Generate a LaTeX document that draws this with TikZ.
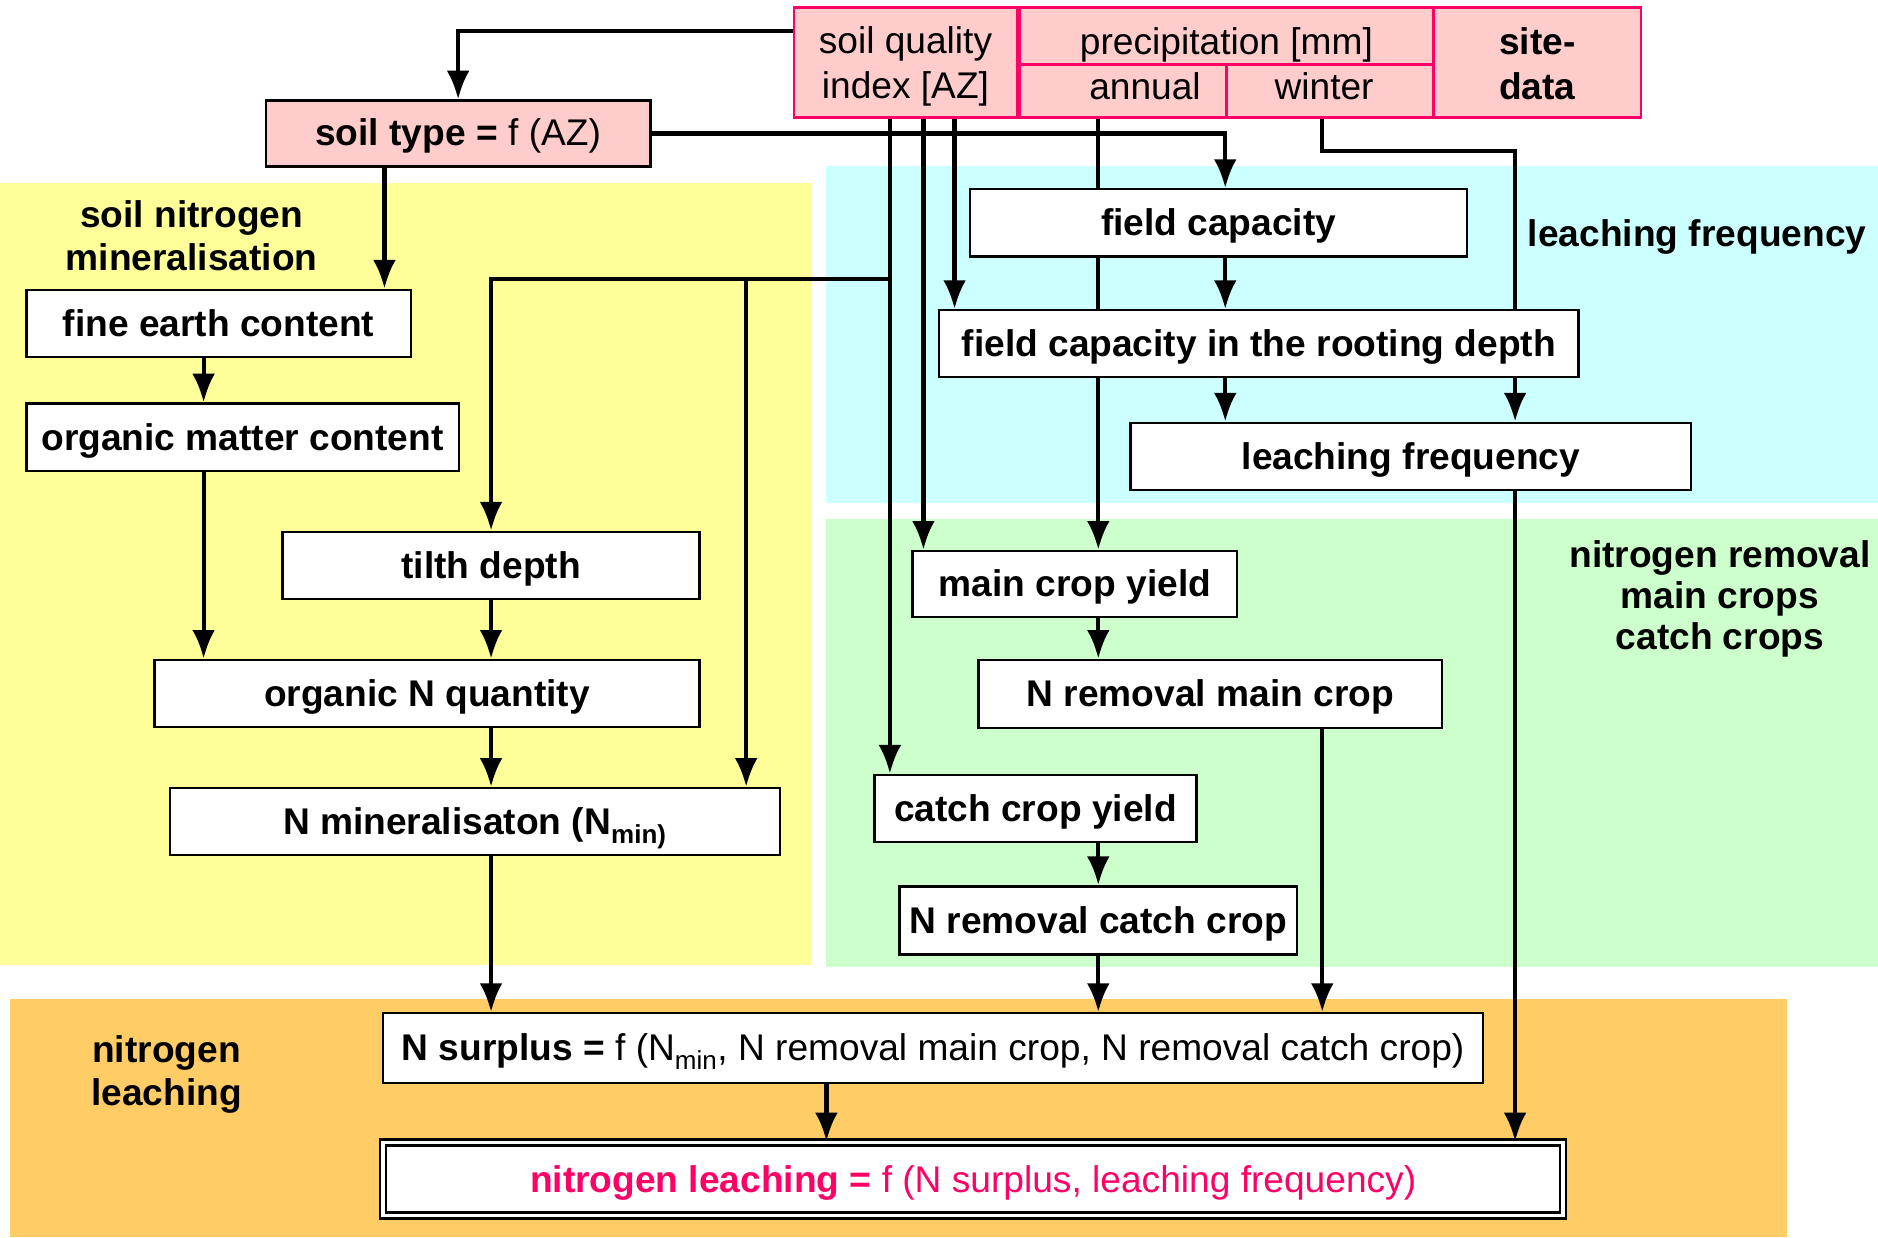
\documentclass[tikz,border=0pt]{standalone}
\usepackage{fontspec}
\setmainfont{Liberation Sans}
\usetikzlibrary{arrows.meta}
\pgfdeclarelayer{regions}
\pgfdeclarelayer{wires}
\pgfsetlayers{regions,wires,main}
\definecolor{cyel}{HTML}{FFFF99}
\definecolor{ccyan}{HTML}{CCFFFF}
\definecolor{cgreen}{HTML}{CCFFCC}
\definecolor{corange}{HTML}{FFCC66}
\definecolor{cpink}{HTML}{FFCCCC}
\definecolor{cmag}{HTML}{FF0066}
\begin{document}
\begin{tikzpicture}[x=1pt,y=-1pt,
  txt/.style={font=\fontsize{31}{38}\selectfont, align=center, inner sep=0pt},
  box/.style={txt, draw=black, line width=2pt, fill=white, font=\fontsize{31}{38}\selectfont\bfseries, text height=21.5pt, text depth=0pt},
  pinkcell/.style={txt, draw=cmag, line width=2.2pt, fill=cpink},
  onecell/.style={pinkcell, text height=20.5pt, text depth=0pt},
  lab/.style={txt, font=\fontsize{31}{36}\selectfont\bfseries},
  arr/.style={line width=3.5pt, -{Latex[length=24pt,width=19pt]}}]
\useasboundingbox (0,0) rectangle (1568,1033);

% regions
\begin{pgfonlayer}{regions}
\fill[cyel] (0,153) rectangle (677,806);
\fill[ccyan] (690,139) rectangle (1568,420);
\fill[cgreen] (690,433) rectangle (1568,807);
\fill[corange] (8,834) rectangle (1492,1033);
\end{pgfonlayer}

% region labels
\node[lab] (lsoil) at (160,197) {soil nitrogen\\mineralisation};
\node[lab] (lleach) at (1417,198) {leaching frequency};
\node[lab, font=\fontsize{31}{34}\selectfont\bfseries] (lrem) at (1436,500) {nitrogen removal\\main crops\\catch crops};
\node[lab] (lnl) at (139,897) {nitrogen\\leaching};

% top site data cells
\node[pinkcell, minimum width=186pt, minimum height=92pt] (sqi) at (756,52) {\rule{0pt}{29pt}soil quality\\index [AZ]};
\node[onecell, minimum width=346pt, minimum height=48pt] (prec) at (1024,30) {\raisebox{-5.5pt}{precipitation [mm]}};
\node[onecell, minimum width=173pt, minimum height=44pt] (annual) at (937.5,76) {\hspace*{37pt}\raisebox{3.5pt}{annual}};
\node[onecell, minimum width=173pt, minimum height=44pt] (winter) at (1110.5,76) {\hspace*{-10pt}\raisebox{3.5pt}{winter}};
\node[pinkcell, minimum width=173pt, minimum height=92pt, font=\fontsize{31}{38}\selectfont\bfseries] (site) at (1283.5,52) {\rule{0pt}{25pt}site-\\data};

\node[onecell, draw=black, line width=2pt, minimum width=321pt, minimum height=55pt] (soiltype) at (382.5,111.5) {\textbf{soil type =} f (AZ)};

% left column
\node[box, minimum width=321pt, minimum height=56pt] (fec) at (182.5,270) {fine earth content};
\node[box, minimum width=361pt, minimum height=56pt] (omc) at (202.5,365) {organic matter content};
\node[box, minimum width=348pt, minimum height=56pt] (tilth) at (410,472) {tilth depth};
\node[box, minimum width=455pt, minimum height=56pt] (orgN) at (356.5,579) {organic N quantity};
\node[box, minimum width=509pt, minimum height=56pt] (nmin) at (396.5,686) {N mineralisaton (N\textsubscript{min)}};

% right column
\node[box, minimum width=415pt, minimum height=56pt] (fc) at (1017.5,186) {field capacity};
\node[box, minimum width=534pt, minimum height=56pt] (fcr) at (1051,287) {field capacity in the rooting depth};
\node[box, minimum width=468pt, minimum height=56pt] (lf) at (1178,381) {leaching frequency};
\node[box, minimum width=271pt, minimum height=55pt] (mcy) at (897.5,487.5) {main crop yield};
\node[box, minimum width=387pt, minimum height=57pt] (nrm) at (1010.5,579.5) {N removal main crop};
\node[box, minimum width=269pt, minimum height=56pt] (ccy) at (864.5,675) {catch crop yield};
\node[box, minimum width=332pt, minimum height=57pt] (nrc) at (917,768.5) {N removal catch crop};

% bottom
\node[box, font=\fontsize{31}{38}\selectfont, minimum width=918pt, minimum height=58pt] (nsur) at (779,875)
  {\textbf{N surplus =} f (N\textsubscript{min}, N removal main crop, N removal catch crop)};
\node[box, font=\fontsize{31}{38}\selectfont, text=cmag, double=white, double distance=3pt, minimum width=985pt, minimum height=61pt] (nleach) at (812.5,984.5)
  {\textbf{nitrogen leaching =} f (N surplus, leaching frequency)};

\coordinate (j1) at (743,233);
\coordinate (j2) at (623,233);
\coordinate (w1) at (1265,126);

% connectors
\begin{pgfonlayer}{wires}
\draw[arr] ([yshift=26pt]sqi.west) -| (soiltype.north);
\draw[arr] (soiltype.east) -| (1023,0 |- fc.north);
\draw[arr] (321,0 |- soiltype.south) -- (321,0 |- fec.north);
\draw[arr] (743,0 |- sqi.south) -- (743,0 |- ccy.north);
\draw[arr] (j1) -| (tilth.north);
\draw[arr] (j2) -- (j2 |- nmin.north);
\draw[arr] (771,0 |- sqi.south) -- (771,0 |- mcy.north);
\draw[arr] (797,0 |- sqi.south) -- (797,0 |- fcr.north);
\draw[arr] (917,0 |- annual.south) -- (917,0 |- mcy.north);
\draw[arr] (1104,0 |- winter.south) |- (w1) -- (w1 |- lf.north);
\draw[arr] (1023,0 |- fc.south) -- (1023,0 |- fcr.north);
\draw[arr] (1023,0 |- fcr.south) -- (1023,0 |- lf.north);
\draw[arr] (1265,0 |- lf.south) -- (1265,0 |- nleach.north);
\draw[arr] (170,0 |- fec.south) -- (170,0 |- omc.north);
\draw[arr] (170,0 |- omc.south) -- (170,0 |- orgN.north);
\draw[arr] (410,0 |- tilth.south) -- (410,0 |- orgN.north);
\draw[arr] (410,0 |- orgN.south) -- (410,0 |- nmin.north);
\draw[arr] (410,0 |- nmin.south) -- (410,0 |- nsur.north);
\draw[arr] (917,0 |- mcy.south) -- (917,0 |- nrm.north);
\draw[arr] (1104,0 |- nrm.south) -- (1104,0 |- nsur.north);
\draw[arr] (917,0 |- ccy.south) -- (917,0 |- nrc.north);
\draw[arr] (917,0 |- nrc.south) -- (917,0 |- nsur.north);
\draw[arr] (690,0 |- nsur.south) -- (690,0 |- nleach.north);
\end{pgfonlayer}
\end{tikzpicture}
\end{document}
